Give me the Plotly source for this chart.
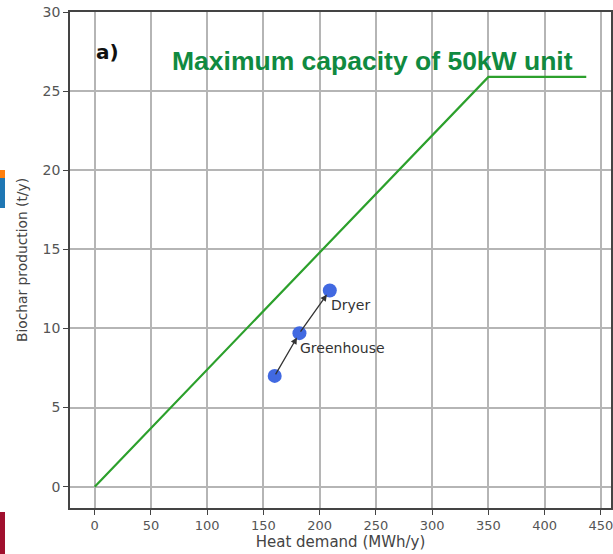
import plotly.graph_objects as go

# Data
cap_x = [0, 350, 437]
cap_y = [0, 25.9, 25.9]
pt_x = [160, 182, 209]
pt_y = [7.0, 9.7, 12.4]
pt_labels = ["", "Greenhouse", "Dryer"]
xticks = [0, 50, 100, 150, 200, 250, 300, 350, 400, 450]
yticks = [0, 5, 10, 15, 20, 25, 30]

fig = go.Figure()
fig.add_trace(go.Scatter(x=cap_x, y=cap_y, mode="lines",
                         line=dict(color="#2ca02c", width=2.2), showlegend=False))
fig.add_trace(go.Scatter(x=pt_x, y=pt_y, mode="markers",
                         marker=dict(color="#4169E1", size=14), showlegend=False))

for i in range(1, len(pt_x)):
    fig.add_annotation(x=pt_x[i], y=pt_y[i], ax=pt_x[i-1], ay=pt_y[i-1],
                       xref="x", yref="y", axref="x", ayref="y",
                       showarrow=True, arrowhead=2, arrowsize=1, arrowwidth=1.3,
                       arrowcolor="#333333", standoff=5, text="")
for i, lab in enumerate(pt_labels):
    if lab:
        fig.add_annotation(x=pt_x[i], y=pt_y[i], text=lab, showarrow=False,
                           xanchor="left", yanchor="top", xshift=-1, yshift=-5,
                           font=dict(family="DejaVu Sans", size=14, color="#333333"))

fig.add_annotation(xref="paper", yref="paper", x=0.045, y=0.919, text="<b>a)</b>",
                   showarrow=False, xanchor="left", yanchor="middle",
                   font=dict(family="DejaVu Sans", size=20, color="#111111"))
fig.add_annotation(xref="paper", yref="paper", x=0.185, y=0.901,
                   text="<b>Maximum capacity of 50kW unit</b>",
                   showarrow=False, xanchor="left", yanchor="middle",
                   font=dict(family="Liberation Sans", size=26.5, color="#108a40"))

# side decorations
fig.add_shape(type="rect", xref="paper", yref="paper", x0=-70/541, x1=-65/541,
              y0=(508-178)/496, y1=(508-170)/496, fillcolor="#ff7f0e", line_width=0, layer="above")
fig.add_shape(type="rect", xref="paper", yref="paper", x0=-70/541, x1=-65/541,
              y0=(508-208)/496, y1=(508-178)/496, fillcolor="#1f77b4", line_width=0, layer="above")
fig.add_shape(type="rect", xref="paper", yref="paper", x0=-70/541, x1=-65/541,
              y0=(508-554)/496, y1=(508-512)/496, fillcolor="#a0102e", line_width=0, layer="above")

axis_common = dict(showgrid=True, gridcolor="#b5b5b5", gridwidth=1.5,
                   showline=True, linecolor="#444444", linewidth=1.5, mirror=True,
                   ticks="outside", ticklen=5, tickcolor="#444444", zeroline=False,
                   automargin=False, ticklabeloverflow="allow")
fig.update_xaxes(range=[-22, 459], tickvals=xticks,
                 tickfont=dict(family="DejaVu Sans", size=13, color="#555555"),
                 title=dict(text="Heat demand (MWh/y)", standoff=4,
                            font=dict(family="DejaVu Sans", size=15, color="#444444")),
                 **axis_common)
fig.update_yaxes(range=[-1.35, 30], tickvals=yticks,
                 tickfont=dict(family="DejaVu Sans", size=14, color="#555555"),
                 title=dict(text="Biochar production (t/y)", standoff=12,
                            font=dict(family="DejaVu Sans", size=13.8, color="#444444")),
                 **axis_common)
fig.update_layout(width=613, height=554, margin=dict(l=70, r=2, t=12, b=46),
                  plot_bgcolor="white", paper_bgcolor="white")
fig.write_html("out.html", config={"displayModeBar": False},
               post_script="document.body.style.margin='0';")
